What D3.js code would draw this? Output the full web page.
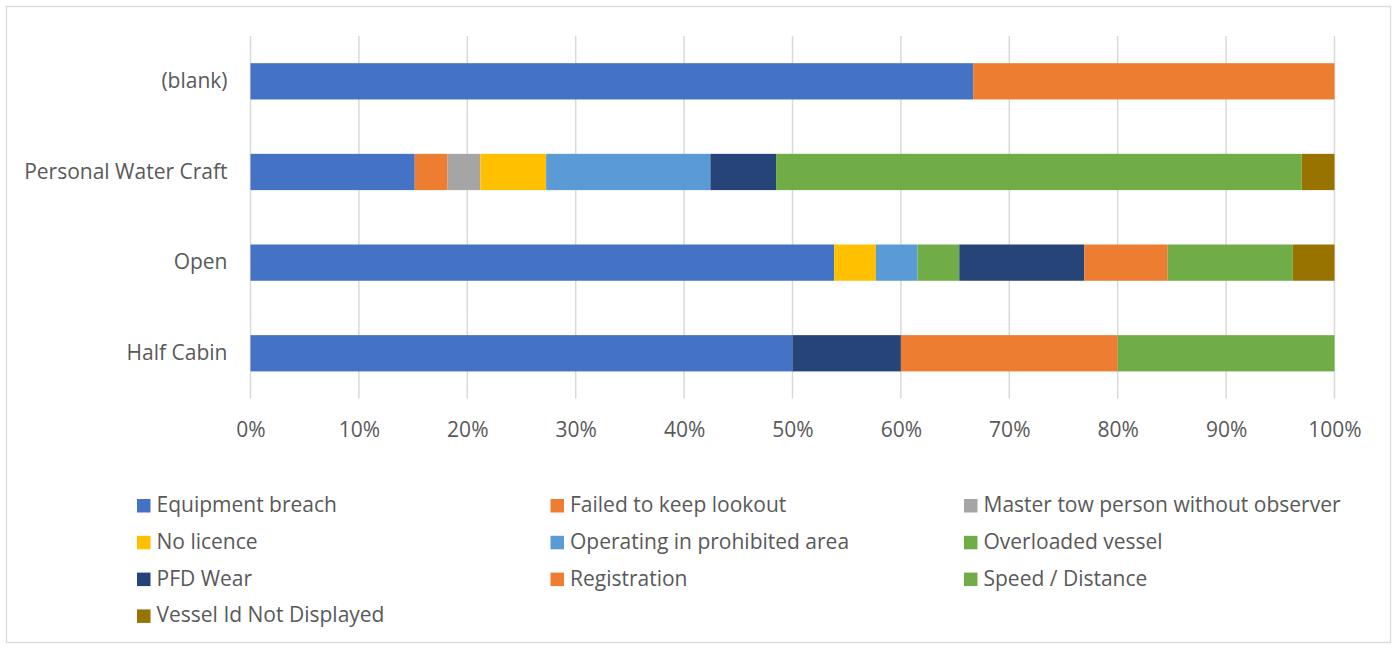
<!DOCTYPE html>
<html>
<head>
<meta charset="utf-8">
<script src="https://cdn.jsdelivr.net/npm/d3@7"></script>
<style>
  body { margin: 0; background: #fff; }
  svg text { font-family: "Open Sans", sans-serif; fill: #595959; }
</style>
</head>
<body>
<div id="chart"></div>
<script>
// categories, top to bottom
var categories = ["(blank)", "Personal Water Craft", "Open", "Half Cabin"];

var seriesNames = [
  "Equipment breach", "Failed to keep lookout", "Master tow person without observer",
  "No licence", "Operating in prohibited area", "Overloaded vessel",
  "PFD Wear", "Registration", "Speed / Distance", "Vessel Id Not Displayed"
];

var seriesColors = [
  "#4472C4", "#ED7D31", "#A5A5A5", "#FFC000", "#5B9BD5",
  "#70AD47", "#264478", "#ED7D31", "#70AD47", "#997300"
];

// counts per category, in the order of `categories`
var equipmentBreach    = [2, 5, 14, 5];
var failedLookout      = [1, 1, 0, 0];
var masterTow          = [0, 1, 0, 0];
var noLicence          = [0, 2, 1, 0];
var prohibitedArea     = [0, 5, 1, 0];
var overloadedVessel   = [0, 0, 1, 0];
var pfdWear            = [0, 2, 3, 1];
var registration       = [0, 0, 2, 2];
var speedDistance      = [0, 16, 3, 2];
var vesselIdNotShown   = [0, 1, 1, 0];

var seriesValues = [equipmentBreach, failedLookout, masterTow, noLicence, prohibitedArea,
  overloadedVessel, pfdWear, registration, speedDistance, vesselIdNotShown];

var tickValues = [0, 0.1, 0.2, 0.3, 0.4, 0.5, 0.6, 0.7, 0.8, 0.9, 1];

var W = 1395, H = 648;
var margin = {left: 250.5, right: 60.5, top: 36, bottom: 249.4};

var svg = d3.select("#chart").append("svg")
  .attr("width", W).attr("height", H);

// outer chart border
svg.append("rect")
  .attr("x", 6.5).attr("y", 6.5)
  .attr("width", 1384).attr("height", 636)
  .attr("fill", "#fff").attr("stroke", "#D9D9D9").attr("stroke-width", 1.3);

var rows = categories.map(function(c, i) {
  var r = {category: c};
  seriesNames.forEach(function(s, j) { r[s] = seriesValues[j][i]; });
  return r;
});

var stack = d3.stack().keys(seriesNames).offset(d3.stackOffsetExpand);
var layers = stack(rows);

var x = d3.scaleLinear().domain([0, 1]).range([margin.left, W - margin.right]);
var y = d3.scaleBand().domain(categories)
  .range([margin.top, H - margin.bottom])
  .paddingInner(0.6).paddingOuter(0.3);

// gridlines
svg.append("g")
  .selectAll("line")
  .data(tickValues)
  .enter().append("line")
    .attr("x1", function(d) { return x(d); })
    .attr("x2", function(d) { return x(d); })
    .attr("y1", margin.top)
    .attr("y2", H - margin.bottom)
    .attr("stroke", "#D9D9D9")
    .attr("stroke-width", 1.5);

// bars
svg.append("g")
  .selectAll("g")
  .data(layers)
  .enter().append("g")
    .attr("fill", function(d, i) { return seriesColors[i]; })
  .selectAll("rect")
  .data(function(d) { return d; })
  .enter().append("rect")
    .attr("x", function(d) { return x(d[0]); })
    .attr("y", function(d) { return y(d.data.category); })
    .attr("width", function(d) { return x(d[1]) - x(d[0]); })
    .attr("height", y.bandwidth());

// x axis labels
var xAxis = d3.axisBottom(x)
  .tickValues(tickValues)
  .tickFormat(d3.format(".0%"))
  .tickSize(0)
  .tickPadding(0);

var gx = svg.append("g")
  .attr("transform", "translate(0," + (H - margin.bottom) + ")")
  .call(xAxis);
gx.select(".domain").remove();
gx.selectAll("text")
  .attr("y", 38.5).attr("dy", null)
  .style("font-size", "21px")
  .attr("fill", "#595959");

// y axis labels
var yAxis = d3.axisLeft(y).tickSize(0).tickPadding(23);
var gy = svg.append("g")
  .attr("transform", "translate(" + margin.left + ",0)")
  .call(yAxis);
gy.select(".domain").remove();
gy.selectAll("text")
  .style("font-size", "21px")
  .attr("fill", "#595959");

// legend
var legend = svg.append("g");
var item = legend.selectAll("g")
  .data(seriesNames)
  .enter().append("g")
    .attr("transform", function(d, i) {
      return "translate(" + (137 + (i % 3) * 413.5) + "," + (499 + Math.floor(i / 3) * 36.8) + ")";
    });
item.append("rect")
  .attr("width", 13.5).attr("height", 13.5)
  .attr("fill", function(d, i) { return seriesColors[i]; });
item.append("text")
  .attr("x", 19.5).attr("y", 13)
  .style("font-size", "21px")
  .text(function(d) { return d; });
</script>
</body>
</html>
